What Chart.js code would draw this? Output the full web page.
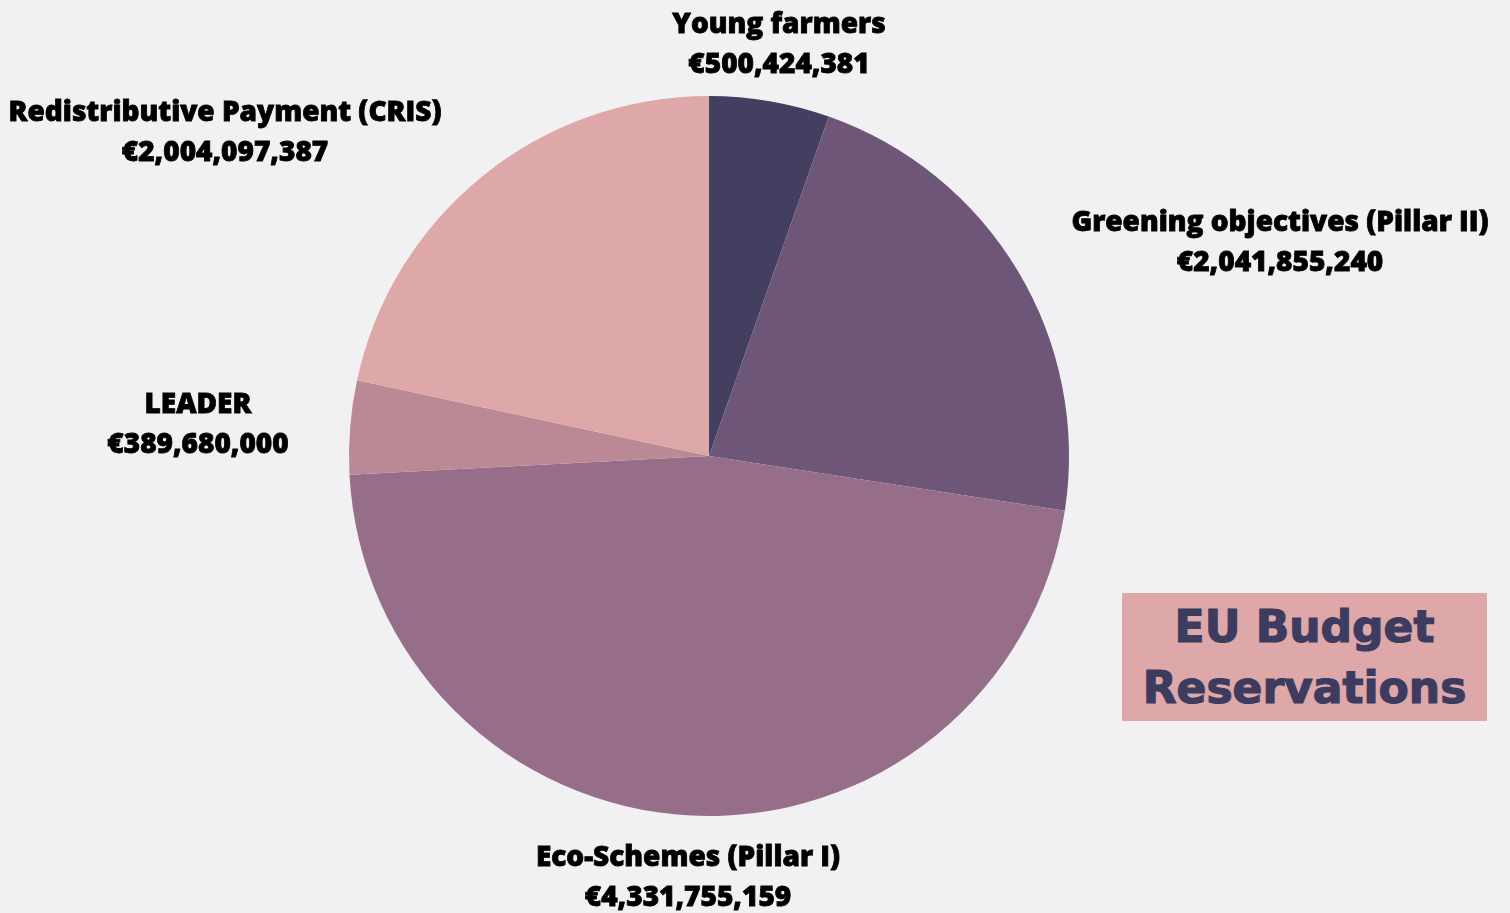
<!DOCTYPE html>
<html>
<head>
<meta charset="utf-8">
<script src="https://cdn.jsdelivr.net/npm/chart.js@4/dist/chart.umd.min.js"></script>
<style>
  html, body { margin: 0; padding: 0; background: #f1f1f4; }
  #wrap { position: relative; width: 1510px; height: 913px; }
  canvas { position: absolute; left: 0; top: 0; }
  .title-box {
    position: absolute; left: 1122px; top: 593px; width: 365px; height: 128px;
    background: #dea7a8; color: #3d3b60;
    font-family: "DejaVu Sans", sans-serif; font-weight: bold; font-size: 44px;
    -webkit-text-stroke: 1.2px #3d3b60;
    line-height: 61px; text-align: center;
    display: flex; align-items: center; justify-content: center;
  }
</style>
</head>
<body>
<div id="wrap">
  <canvas id="pie" width="1510" height="913"></canvas>
  <div class="title-box">EU Budget<br>Reservations</div>
</div>
<script>
// --- chart data ---
const categories = [
  "Young farmers",
  "Greening objectives (Pillar II)",
  "Eco-Schemes (Pillar I)",
  "LEADER",
  "Redistributive Payment (CRIS)",
];
const amounts = [500424381, 2041855240, 4331755159, 389680000, 2004097387];
const sliceColors = ["#433f60", "#6e5678", "#976e89", "#bb8896", "#dea7a8"];

// where each label block sits (centre x, first line y)
const labelSpots = [
  [779, 25],
  [1280, 223],
  [688, 858],
  [198, 405],
  [225, 113],
];

function euro(v) {
  return "€" + v.toLocaleString("en-US");
}

// -- draws the two-line labels outside the pie --
const outsideLabels = {
  id: "outsideLabels",
  afterDraw(chart) {
    const ctx = chart.ctx;
    ctx.save();
    ctx.fillStyle = "#000";
    ctx.strokeStyle = "#000";
    ctx.lineWidth = 0.8;
    ctx.textAlign = "center";
    ctx.textBaseline = "middle";
    ctx.font = "800 28px 'Open Sans'";
    categories.forEach((name, i) => {
      const [x, y] = labelSpots[i];
      const value = euro(amounts[i]);
      ctx.fillText(name, x, y);
      ctx.strokeText(name, x, y);
      ctx.fillText(value, x, y + 40);
      ctx.strokeText(value, x, y + 40);
    });
    ctx.restore();
  },
};

new Chart(document.getElementById("pie"), {
  type: "pie",
  data: {
    labels: categories,
    datasets: [
      {
        data: amounts,
        backgroundColor: sliceColors,
        borderWidth: 0,
      },
    ],
  },
  options: {
    responsive: false,
    animation: false,
    layout: {
      padding: { left: 349, right: 441, top: 96, bottom: 97 },
    },
    plugins: {
      legend: { display: false },
      tooltip: { enabled: false },
    },
  },
  plugins: [outsideLabels],
});
</script>
</body>
</html>
